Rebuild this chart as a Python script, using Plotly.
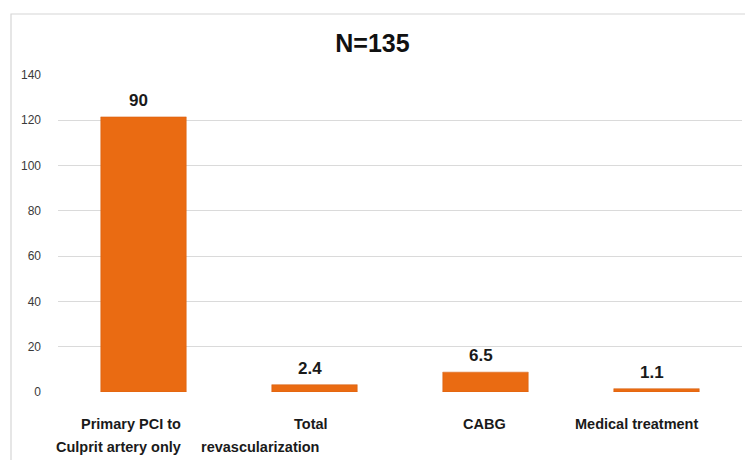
import plotly.graph_objects as go

# Treatment strategy breakdown, N = 135 patients
total_patients = 135
categories = ["Primary PCI to Culprit artery only", "Total revascularization",
              "CABG", "Medical treatment"]
percent = [90, 2.4, 6.5, 1.1]
label_line1 = ["Primary PCI to", "Total", "CABG", "Medical treatment"]
label_line2 = ["Culprit artery only", "revascularization", "", ""]
y_ticks = [0, 20, 40, 60, 80, 100, 120, 140]

# Bars show patient counts derived from the percentage labels
counts = [p * total_patients / 100 for p in percent]
xpos = list(range(len(categories)))

FONT = "Liberation Sans, Arial, sans-serif"
BAR_COLOR = "#EA6B12"
GRID = "#dadada"

fig = go.Figure()
fig.add_trace(go.Bar(
    x=xpos, y=counts, width=0.5,
    marker=dict(color=BAR_COLOR, line=dict(color="#D45E10", width=0.5)),
    hovertext=categories, showlegend=False,
))

annotations = []
# value labels above bars
for x, c, p in zip(xpos, counts, percent):
    annotations.append(dict(
        x=x, y=c, xref="x", yref="y", text=f"{p:g}", showarrow=False,
        yanchor="bottom", yshift=5, xshift=-5,
        font=dict(family=FONT, size=17, color="#1a1a1a", weight="bold"),
    ))

# two-line category captions under the axis
line1_shift = [-13, -4, -1, -20]
line2_shift = [-25, -55, 0, 0]
for x, t1, t2, s1, s2 in zip(xpos, label_line1, label_line2, line1_shift, line2_shift):
    annotations.append(dict(
        x=x, y=0, xref="x", yref="paper", text=t1, showarrow=False,
        yanchor="middle", yshift=-32, xshift=s1,
        font=dict(family=FONT, size=14.5, color="#1a1a1a", weight="bold"),
    ))
    if t2:
        annotations.append(dict(
            x=x, y=0, xref="x", yref="paper", text=t2, showarrow=False,
            yanchor="middle", yshift=-55, xshift=s2,
            font=dict(family=FONT, size=14.5, color="#1a1a1a", weight="bold"),
        ))

fig.update_layout(
    width=745, height=460,
    margin=dict(l=58, r=3, t=75, b=68),
    paper_bgcolor="white", plot_bgcolor="white",
    title=dict(text="N=135", x=0.5, xanchor="center", y=1 - 43 / 460,
               yanchor="middle", yref="container",
               font=dict(family=FONT, size=25, color="#111111", weight="bold")),
    xaxis=dict(range=[-0.5, 3.5], showticklabels=False, showgrid=False,
               zeroline=False, showline=False, ticks=""),
    yaxis=dict(range=[0, 140], tickvals=y_ticks, showgrid=True, gridcolor=GRID,
               gridwidth=1, zeroline=False, showline=False, ticks="",
               ticklabelstandoff=16,
               tickfont=dict(family=FONT, size=12, color="#3a3a3a")),
    annotations=annotations,
    shapes=[dict(type="rect", xref="paper", yref="paper",
                 x0=(11 - 58) / 684, x1=(760 - 58) / 684,
                 y0=(392 - 480) / 317, y1=(392 - 14) / 317,
                 line=dict(color="#d6d6d6", width=1.2), layer="below")],
    bargap=0.5,
)

fig.write_html("out.html")
